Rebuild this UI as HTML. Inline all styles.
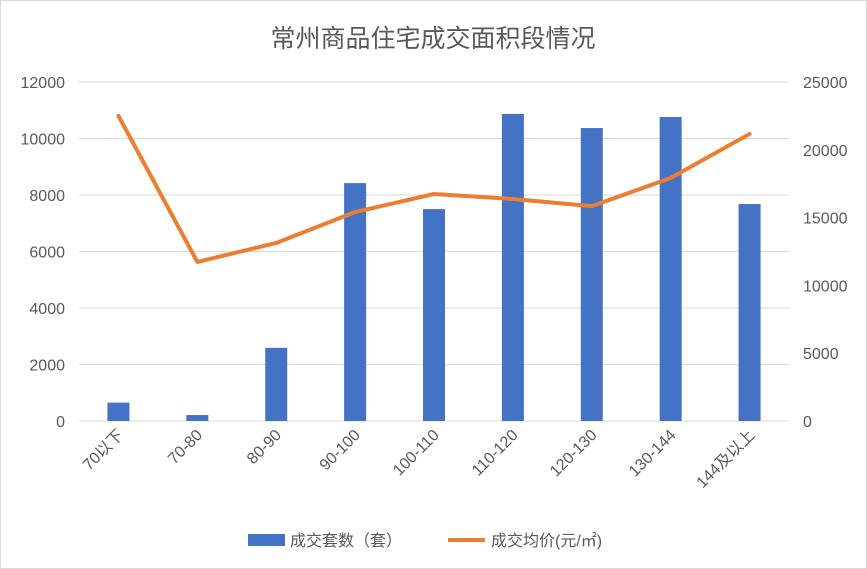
<!DOCTYPE html>
<html><head><meta charset="utf-8"><style>
body{margin:0;background:#fff}
svg{display:block;font-family:"Liberation Sans","Noto Sans CJK SC",sans-serif}
</style></head><body>
<svg id="c" width="867" height="569">
<rect x="0.5" y="0.5" width="866" height="568" fill="#fff" stroke="#d9d9d9"/>
<text x="433" y="47" text-anchor="middle" font-size="25" fill="#595959">常州商品住宅成交面积段情况</text>
<g id="grid"></g><g id="bars"></g><g id="line"></g><g id="axes"></g>
<g>
<rect x="248" y="534" width="37" height="12" fill="#4472c4"/>
<text x="290" y="546" font-size="16" fill="#595959">成交套数（套）</text>
<line x1="448" y1="540" x2="485" y2="540" stroke="#ed7d31" stroke-width="4"/>
<text x="491" y="546" font-size="16" fill="#595959">成交均价(元/㎡)</text>
</g>
</svg>
<script>
const categories=["70以下","70-80","80-90","90-100","100-110","110-120","120-130","130-144","144及以上"];
const units=[650,210,2590,8420,7500,10870,10370,10760,7680];
const prices=[22500,11730,13130,15410,16740,16370,15850,17920,21170];
const leftTicks=[0,2000,4000,6000,8000,10000,12000];
const rightTicks=[0,5000,10000,15000,20000,25000];
const NS="http://www.w3.org/2000/svg";
const L=79,R=789,T=82,B=421;
const bw=(R-L)/categories.length;
const xc=i=>L+bw*(i+0.5);
const yL=v=>B-(v/12000)*(B-T);
const yR=v=>B-(v/25000)*(B-T);
function mk(t,a,p){const e=document.createElementNS(NS,t);for(const k in a)e.setAttribute(k,a[k]);document.getElementById(p).appendChild(e);return e;}
leftTicks.forEach(v=>{
 const g=mk('line',{x1:L,x2:R,y1:yL(v),y2:yL(v),stroke:'#d9d9d9','stroke-width':1},'grid');
 
 
 const t=mk('text',{x:65,y:yL(v)+6,'text-anchor':'end','font-size':16,fill:'#595959'},'axes');
 t.textContent=v;
 
 
});
rightTicks.forEach(v=>{
 const t=mk('text',{x:803,y:yR(v)+6,'font-size':16,fill:'#595959'},'axes');
 t.textContent=v;
 
 
});
categories.forEach((c,i)=>{
 const r=mk('rect',{x:xc(i)-11,y:yL(units[i]),width:22,height:B-yL(units[i]),fill:'#4472c4'},'bars');
 
 
 const t=mk('text',{x:xc(i)+6,y:436,'text-anchor':'end','font-size':16,fill:'#595959',transform:`rotate(-45 ${xc(i)+6} 436)`},'axes');
 t.textContent=c;
 
 
});
const p=mk('polyline',{points:prices.map((v,i)=>xc(i)+','+yR(v)).join(' '),fill:'none',stroke:'#ed7d31','stroke-width':4,'stroke-linejoin':'round','stroke-linecap':'round'},'line');


</script>
</body></html>
